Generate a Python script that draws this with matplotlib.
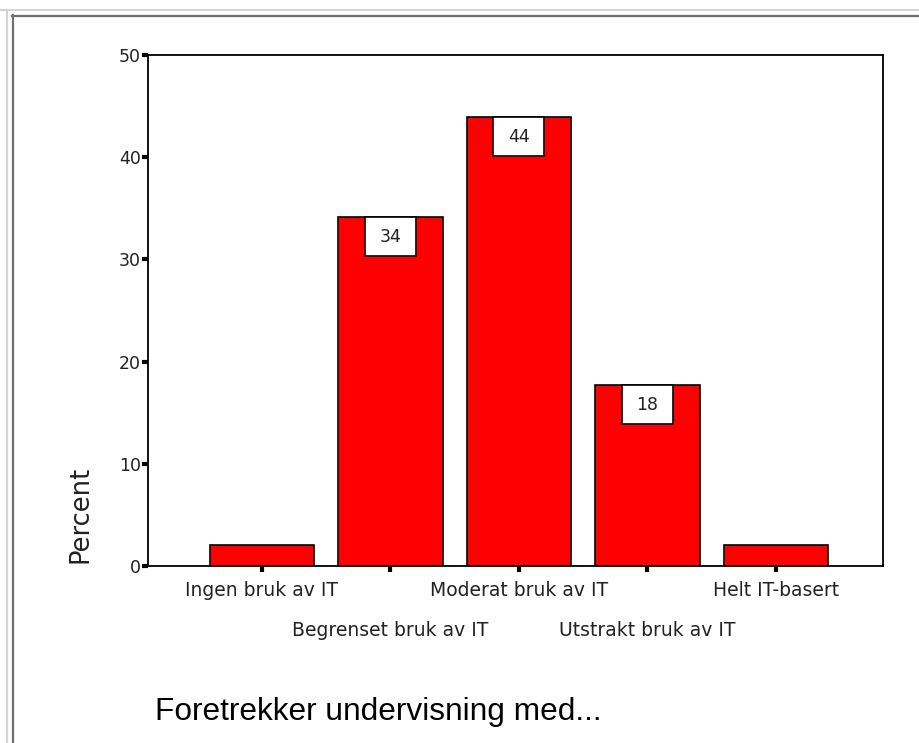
import matplotlib
matplotlib.use("Agg")
import matplotlib.pyplot as plt
from matplotlib.lines import Line2D
from matplotlib.patches import Rectangle

categories = ["Ingen bruk av IT", "Begrenset bruk av IT", "Moderat bruk av IT",
              "Utstrakt bruk av IT", "Helt IT-basert"]
percent = [2.1, 34.1, 43.9, 17.7, 2.1]
value_labels = ["", "34", "44", "18", ""]
yticks = [0, 10, 20, 30, 40, 50]
title = "Foretrekker undervisning med..."
ylabel = "Percent"

W, H = 919, 743
fig = plt.figure(figsize=(W / 100, H / 100), dpi=100)
fig.patch.set_facecolor("white")

def px(x, y):
    return x / W, 1 - y / H
for (x0, y0, x1, y1, c, lw) in [
    (0, 10, W, 10, "#d4d4d4", 1.5), (7, 10, 7, H, "#d4d4d4", 1.5),
    (12, 15.5, W, 15.5, "#707070", 1.6), (12.5, 15, 12.5, H, "#707070", 1.6)]:
    a, b = px(x0, y0)
    c2, d = px(x1, y1)
    fig.add_artist(Line2D([a, c2], [b, d], color=c, lw=lw, transform=fig.transFigure))

left, right, top, bottom = 148, 883, 55, 566
ax = fig.add_axes([left / W, 1 - bottom / H, (right - left) / W, (bottom - top) / H])

xs = list(range(len(categories)))
xlim = (-0.887, 4.833)
ylim = (0, 50)
bars = ax.bar(xs, percent, width=0.81, color="#ff0000", edgecolor="black", linewidth=1.2, zorder=2)
ax.set_xlim(*xlim)
ax.set_ylim(*ylim)

bw = 51 * (xlim[1] - xlim[0]) / (right - left)
bh = 39 * (ylim[1] - ylim[0]) / (bottom - top)
for b, lab in zip(bars, value_labels):
    if lab:
        cx = b.get_x() + b.get_width() / 2
        tp = b.get_height()
        ax.add_patch(Rectangle((cx - bw / 2, tp - bh), bw, bh, facecolor="white",
                               edgecolor="black", linewidth=1.2, zorder=4))
        ax.text(cx, tp - bh / 2, lab, ha="center", va="center", fontsize=12.5,
                family="DejaVu Sans", color="#222222", zorder=5)

for s in ax.spines.values():
    s.set_linewidth(1.3)
    s.set_color("black")

ax.set_yticks(yticks)
ax.set_yticklabels([str(t) for t in yticks], fontsize=12.5, family="DejaVu Sans", color="#222222")
ax.tick_params(axis="y", direction="out", length=4, width=3, pad=1)
ax.set_xticks(xs)
ax.set_xticklabels([])
ax.tick_params(axis="x", direction="out", length=4, width=3)

for i, c in enumerate(categories):
    off = -24 if i % 2 == 0 else -64
    ax.annotate(c, xy=(i, 0), xytext=(0, off), textcoords="offset pixels",
                ha="center", va="center", fontsize=13.5, family="DejaVu Sans",
                color="#222222", annotation_clip=False)

fig.text(81 / W, 1 - 514 / H, ylabel, rotation=90, ha="center", va="center",
         fontsize=18.5, family="DejaVu Sans", color="#222222")
fig.text(155 / W, 1 - 712 / H, title, ha="left", va="center",
         fontsize=22.8, family="Liberation Sans")

fig.savefig("out.png", dpi=100, facecolor="white")
